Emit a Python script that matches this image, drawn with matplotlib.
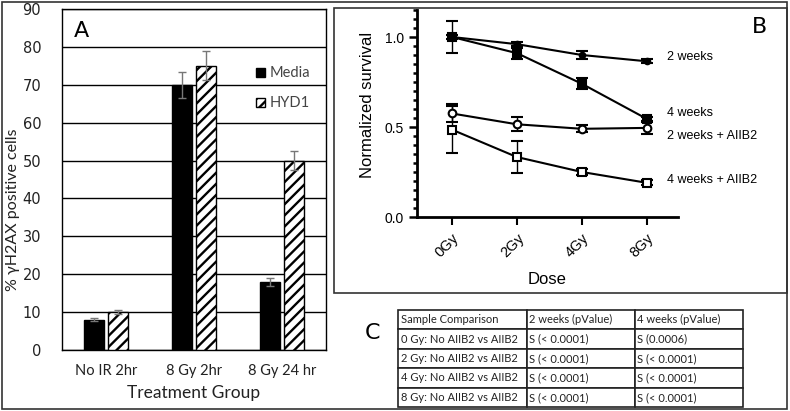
import numpy as np
import matplotlib
matplotlib.use('Agg')
import matplotlib.pyplot as plt
from matplotlib.patches import Rectangle

# Panel A data
groups = ['No IR 2hr', '8 Gy 2hr', '8 Gy 24 hr']
media = [8, 70, 18]
media_err = [0.4, 3.5, 1.0]
hyd1 = [10, 75, 50]
hyd1_err = [0.5, 3.8, 2.5]

# Panel B data
doses = ['0Gy', '2Gy', '4Gy', '8Gy']
wk2 = [1.0, 0.96, 0.90, 0.865]
wk2_err = [0.01, 0.012, 0.02, 0.012]
wk4 = [1.0, 0.91, 0.74, 0.545]
wk4_err = [0.09, 0.03, 0.03, 0.012]
wk2_aiib2 = [0.575, 0.515, 0.49, 0.495]
wk2_aiib2_err = [0.05, 0.04, 0.02, 0.035]
wk4_aiib2 = [0.485, 0.333, 0.25, 0.19]
wk4_aiib2_err = [0.13, 0.09, 0.015, 0.015]

# Panel C table
table_rows = [
    ['Sample Comparison', '2 weeks (pValue)', '4 weeks (pValue)'],
    ['0 Gy: No AIIB2 vs AIIB2', 'S (< 0.0001)', 'S (0.0006)'],
    ['2 Gy: No AIIB2 vs AIIB2', 'S (< 0.0001)', 'S (< 0.0001)'],
    ['4 Gy: No AIIB2 vs AIIB2', 'S (< 0.0001)', 'S (< 0.0001)'],
    ['8 Gy: No AIIB2 vs AIIB2', 'S (< 0.0001)', 'S (< 0.0001)'],
]

W, H = 790, 411
fig = plt.figure(figsize=(W / 100, H / 100), dpi=100)
plt.rcParams['hatch.linewidth'] = 1.7

def fx(px):
    return px / W

def fy(py):
    return 1 - py / H

# outer frame and panel B box
fig.patches.append(Rectangle((fx(2), fy(409)), fx(785), (407) / H, fill=False,
                             lw=1.2, ec='#333333', transform=fig.transFigure))
fig.patches.append(Rectangle((fx(334), fy(293)), fx(453), 285 / H, fill=False,
                             lw=1.2, ec='#333333', transform=fig.transFigure))

# ---- Panel A ----
axA = fig.add_axes([fx(62), fy(350), fx(264), (350 - 9) / H])
x = np.arange(len(groups)) + 0.5
w = 0.23
axA.bar(x - 0.14, media, w, color='black', edgecolor='black', label='Media', zorder=3)
axA.errorbar(x - 0.14, media, yerr=media_err, fmt='none', ecolor='#777777',
             capsize=3, elinewidth=1, zorder=4)
axA.bar(x + 0.14, hyd1, w, color='white', edgecolor='black', hatch='///',
        lw=1, label='HYD1', zorder=3)
axA.errorbar(x + 0.14, hyd1, yerr=hyd1_err, fmt='none', ecolor='#777777',
             capsize=3, elinewidth=1, zorder=4)
axA.set_xlim(0, 3)
axA.set_ylim(0, 90)
axA.set_yticks(range(0, 91, 10))
axA.yaxis.grid(True, color='black', lw=1)
axA.set_axisbelow(True)
axA.set_xticks(x)
axA.set_xticklabels(groups, family='Lato', fontsize=10.5, color='#222222')
axA.tick_params(axis='both', length=0)
axA.tick_params(axis='y', pad=15, labelsize=10.5, labelcolor='#222222')
axA.tick_params(axis='x', pad=10)
axA.set_xlabel('Treatment Group', family='Lato', fontsize=12.5, color='#222222', labelpad=5)
axA.set_ylabel('% \u03b3H2AX positive cells', family='Lato', fontsize=11.5,
               color='#222222')
axA.yaxis.set_label_coords(-(62 - 20) / 264, (350 - 210) / 341)
for s in axA.spines.values():
    s.set_color('black')
    s.set_linewidth(1)
axA.text(0.045, 0.935, 'A', transform=axA.transAxes, fontsize=16, va='center')
axA.legend(loc='upper right', bbox_to_anchor=(0.99, 0.87), frameon=False,
           prop={'family': 'Lato', 'size': 10.5}, labelcolor='#444444',
           handlelength=0.6, handleheight=0.6, handletextpad=0.3, labelspacing=1.1)

# ---- Panel B ----
axB = fig.add_axes([fx(417), fy(217), fx(678 - 417), (217 - 10) / H])
xi = np.arange(len(doses))
bfont = ['Liberation Sans', 'DejaVu Sans']
series = [
    (wk2, wk2_err, 'o', 'black', 4),
    (wk4, wk4_err, 's', 'black', 5.5),
    (wk2_aiib2, wk2_aiib2_err, 'o', 'white', 5.5),
    (wk4_aiib2, wk4_aiib2_err, 's', 'white', 6),
]
for vals, errs, mk, fc, ms in series:
    axB.errorbar(xi, vals, yerr=errs, color='black', lw=1.5, marker=mk, ms=ms,
                 mfc=fc, mec='black', mew=1.5, capsize=4, elinewidth=1, capthick=1)
axB.set_xlim(-0.54, 3.48)
axB.set_ylim(0, 1.15)
axB.set_yticks([0, 0.5, 1.0])
axB.set_yticklabels(['0.0', '0.5', '1.0'], family=bfont, fontsize=10)
axB.set_yticks(np.arange(0, 1.151, 0.05), minor=True)
axB.set_xticks(xi)
axB.set_xticklabels(doses, family=bfont, fontsize=10.5, rotation=45, ha='right',
                    rotation_mode='anchor')
axB.tick_params(axis='y', which='major', length=6, width=1.8, direction='out')
axB.tick_params(axis='y', which='minor', length=3, width=1.8, direction='out')
axB.tick_params(axis='x', length=6, width=1.5, direction='out', pad=4)
axB.spines['top'].set_visible(False)
axB.spines['right'].set_visible(False)
axB.spines['left'].set_linewidth(2)
axB.spines['bottom'].set_linewidth(2)
axB.set_ylabel('Normalized survival', family=bfont, fontsize=12)
axB.yaxis.set_label_coords(-(417 - 375) / 261, (217 - 105) / 207)
axB.set_xlabel('Dose', family=bfont, fontsize=12, labelpad=9)
axB.patch.set_alpha(0)

labels_b = ['2 weeks', '4 weeks', '2 weeks + AIIB2', '4 weeks + AIIB2']
label_y = [57, 113, 136, 180]
for txt, py in zip(labels_b, label_y):
    fig.text(fx(667), fy(py), txt, family=bfont, fontsize=9, va='center', ha='left')
fig.text(fx(760), fy(27), 'B', fontsize=16, va='center', ha='center')

# ---- Panel C ----
fig.text(fx(372), fy(333), 'C', fontsize=16, va='center', ha='center')
axC = fig.add_axes([fx(398), fy(407), fx(743 - 398), (407 - 310) / H])
axC.axis('off')
tbl = axC.table(cellText=table_rows, cellLoc='left', loc='center',
                colWidths=[129 / 345, 108 / 345, 108 / 345], bbox=[0, 0, 1, 1])
tbl.auto_set_font_size(False)
for (r, c), cell in tbl.get_celld().items():
    cell.set_linewidth(1.2)
    cell.set_edgecolor('#222222')
    cell.PAD = 0.02
    cell.get_text().set_fontfamily('Lato')
    cell.get_text().set_fontsize(8)
    cell.get_text().set_color('#222222')

fig.savefig('out.png', dpi=100)
